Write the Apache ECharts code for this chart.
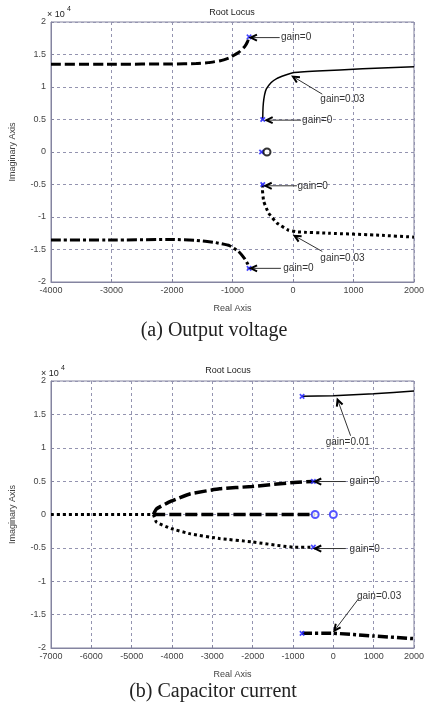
<!DOCTYPE html>
<html>
<head>
<meta charset="utf-8">
<script src="https://cdn.jsdelivr.net/npm/echarts@6/dist/echarts.min.js"></script>
<style>
  html, body { margin: 0; padding: 0; background: #fff; }
  #chart { width: 427px; height: 704px; }
</style>
</head>
<body>
<div id="chart"></div>
<script>
// (a) output voltage branches, [real, imag / 1e4]
const aUpperDashed = [[-4000, 1.35], [-3000, 1.35], [-2000, 1.355], [-1600, 1.36], [-1400, 1.375], [-1200, 1.405], [-1050, 1.45], [-900, 1.53], [-800, 1.62], [-750, 1.7], [-726, 1.77]];
const aUpperSolid = [[-500, 0.5], [-498, 0.62], [-490, 0.75], [-470, 0.88], [-440, 0.97], [-360, 1.07], [-270, 1.13], [-134, 1.18], [0, 1.22], [400, 1.245], [1150, 1.28], [2000, 1.31]];
const aLowerDotted = [[-500, -0.5], [-505, -0.58], [-484, -0.76], [-403, -0.94], [-269, -1.09], [-81, -1.2], [81, -1.23], [613, -1.25], [1425, -1.28], [2000, -1.31]];
const aLowerDashDot = [[-4000, -1.355], [-3000, -1.355], [-2000, -1.345], [-1600, -1.36], [-1300, -1.39], [-1050, -1.44], [-900, -1.53], [-800, -1.64], [-750, -1.72], [-726, -1.79]];
const aPoles = [[-726, 1.77], [-500, 0.5], [-520, 0], [-500, -0.5], [-726, -1.79]];
const aZeros = [[-430, 0]];
// text, text left x, text y, arrow tail x, tail y, tip x, tip y
const aNotes = [
  ['gain=0', -200, 1.76, -220, 1.76, -700, 1.76],
  ['gain=0.03', 452, 0.815, 484, 0.89, 0, 1.16],
  ['gain=0', 150, 0.49, 134, 0.49, -440, 0.49],
  ['gain=0', 75, -0.52, 65, -0.52, -456, -0.52],
  ['gain=0.03', 452, -1.63, 484, -1.53, 27, -1.29],
  ['gain=0', -161, -1.79, -200, -1.79, -698, -1.79]
];

// (b) capacitor current branches
const bTopSolid = [[-775, 1.77], [0, 1.78], [1000, 1.81], [2000, 1.85]];
const bUpperDashed = [[-4460, 0], [-4385, 0.085], [-4024, 0.2], [-3542, 0.31], [-2820, 0.385], [-2019, 0.42], [-977, 0.48], [-495, 0.495]];
const bAxisDotted = [[-7000, 0], [-4460, 0]];
const bAxisDashed = [[-4460, 0], [-450, 0]];
const bLowerDotted = [[-4460, 0], [-4385, -0.115], [-4024, -0.21], [-3542, -0.29], [-2820, -0.36], [-2019, -0.41], [-977, -0.49], [-495, -0.49]];
const bBottomDashDot = [[-775, -1.78], [0, -1.78], [1000, -1.82], [2000, -1.86]];
const bPoles = [[-775, 1.77], [-495, 0.495], [-495, -0.49], [-775, -1.78]];
const bZeros = [[-450, 0], [0, 0]];
const bNotes = [
  ['gain=0.01', -190, 1.083, 428, 1.18, 105, 1.72],
  ['gain=0', 404, 0.494, 308, 0.494, -455, 0.494],
  ['gain=0', 404, -0.524, 308, -0.51, -455, -0.51],
  ['gain=0.03', 587, -1.23, 628, -1.26, 26, -1.74]
];

const chart = echarts.init(document.getElementById('chart'));

const axisColor = '#8484a0';
const gridColor = '#9494b0';
const labelFont = { color: '#444', fontFamily: 'Liberation Sans', fontSize: 9 };

function xAxis(idx, min) {
  return {
    gridIndex: idx, type: 'value', min: min, max: 2000, interval: 1000,
    name: 'Real Axis', nameLocation: 'middle', nameGap: 22,
    nameTextStyle: labelFont,
    axisLine: { onZero: false, lineStyle: { color: axisColor } },
    axisTick: { inside: true, length: 3, lineStyle: { color: axisColor } },
    axisLabel: Object.assign({ margin: 4, formatter: v => String(v) }, labelFont),
    splitLine: { lineStyle: { color: gridColor, type: [3, 3] } }
  };
}

function yAxis(idx) {
  return {
    gridIndex: idx, type: 'value', min: -2, max: 2, interval: 0.5,
    name: 'Imaginary Axis', nameLocation: 'middle', nameGap: 34,
    nameTextStyle: labelFont,
    axisLine: { onZero: false, lineStyle: { color: axisColor } },
    axisTick: { inside: true, length: 3, lineStyle: { color: axisColor } },
    axisLabel: Object.assign({ margin: 5, formatter: v => String(v) }, labelFont),
    splitLine: { lineStyle: { color: gridColor, type: [3, 3] } }
  };
}

function branch(idx, data, type, width) {
  return {
    type: 'line', xAxisIndex: idx, yAxisIndex: idx, data: data,
    showSymbol: false, smooth: 0.12, silent: true,
    lineStyle: { color: '#000', width: width, type: type, cap: 'butt' }
  };
}

const crossPath = 'path://M1,0L5,4L9,0L10,1L6,5L10,9L9,10L5,6L1,10L0,9L4,5L0,1Z';

function markers(idx, data, symbol, size, color) {
  return {
    type: 'scatter', xAxisIndex: idx, yAxisIndex: idx, data: data,
    symbol: symbol, symbolSize: size, silent: true,
    itemStyle: { color: color, borderColor: color, borderWidth: 1.2 }, z: 5
  };
}

function notes(idx, list) {
  return {
    type: 'custom', xAxisIndex: idx, yAxisIndex: idx, silent: true, z: 6,
    data: list.map(n => n.slice(1)),
    renderItem: function (params, api) {
      const t = api.coord([api.value(0), api.value(1)]);
      const a = api.coord([api.value(2), api.value(3)]);
      const b = api.coord([api.value(4), api.value(5)]);
      const ang = Math.atan2(a[1] - b[1], a[0] - b[0]);
      const L = 7, s = 0.45;
      const h1 = [b[0] + L * Math.cos(ang + s), b[1] + L * Math.sin(ang + s)];
      const h2 = [b[0] + L * Math.cos(ang - s), b[1] + L * Math.sin(ang - s)];
      return {
        type: 'group',
        children: [
          { type: 'line', shape: { x1: a[0], y1: a[1], x2: b[0], y2: b[1] }, style: { stroke: '#333', lineWidth: 1 } },
          { type: 'polyline', shape: { points: [h1, b, h2] }, style: { stroke: '#000', lineWidth: 2, fill: null } },
          { type: 'text', x: t[0], y: t[1], style: { text: list[params.dataIndex][0], fill: '#333', font: '10px "Liberation Sans"', textAlign: 'left', textVerticalAlign: 'middle' } }
        ]
      };
    }
  };
}

function textEl(x, y, text, font, align) {
  return { type: 'text', x: x, y: y, silent: true, style: { text: text, font: font, fill: '#222', textAlign: align || 'center', textVerticalAlign: 'middle' } };
}

const option = {
  animation: false,
  backgroundColor: '#fff',
  grid: [
    { left: 47, right: 8, top: 22, height: 260, show: true, borderColor: axisColor, borderWidth: 1 },
    { left: 43, right: 10, top: 381, height: 267, show: true, borderColor: axisColor, borderWidth: 1 }
  ],
  xAxis: [xAxis(0, -4000), xAxis(1, -7000)],
  yAxis: [yAxis(0), yAxis(1)],
  graphic: [
    textEl(232, 13, 'Root Locus', '9px "Liberation Sans"'),
    textEl(47, 15, '\u00d7 10', '9px "Liberation Sans"', 'left'),
    textEl(67, 9, '4', '7px "Liberation Sans"', 'left'),
    textEl(214, 331, '(a) Output voltage', '20px "Liberation Serif"'),
    textEl(228, 371, 'Root Locus', '9px "Liberation Sans"'),
    textEl(41, 374, '\u00d7 10', '9px "Liberation Sans"', 'left'),
    textEl(61, 368, '4', '7px "Liberation Sans"', 'left'),
    textEl(213, 692, '(b) Capacitor current', '20px "Liberation Serif"')
  ],
  series: [
    branch(0, aUpperDashed, [10, 4], 3),
    branch(0, aUpperSolid, 'solid', 1.5),
    branch(0, aLowerDotted, [3, 3], 3),
    branch(0, aLowerDashDot, [10, 3, 3, 3], 3),
    markers(0, aPoles, crossPath, 4, '#2a2aff'),
    markers(0, aZeros, 'emptyCircle', 7, '#000'),
    notes(0, aNotes),
    branch(1, bTopSolid, 'solid', 1.5),
    branch(1, bUpperDashed, [12, 4], 3.5),
    branch(1, bAxisDotted, [3, 3], 3),
    branch(1, bAxisDashed, [12, 4], 3.5),
    branch(1, bLowerDotted, [3, 3], 3),
    branch(1, bBottomDashDot, [10, 3, 3, 3], 3.5),
    markers(1, bPoles, crossPath, 4, '#2a2aff'),
    markers(1, bZeros, 'emptyCircle', 7, '#2a2aff'),
    notes(1, bNotes)
  ]
};

chart.setOption(option);
</script>
</body>
</html>
